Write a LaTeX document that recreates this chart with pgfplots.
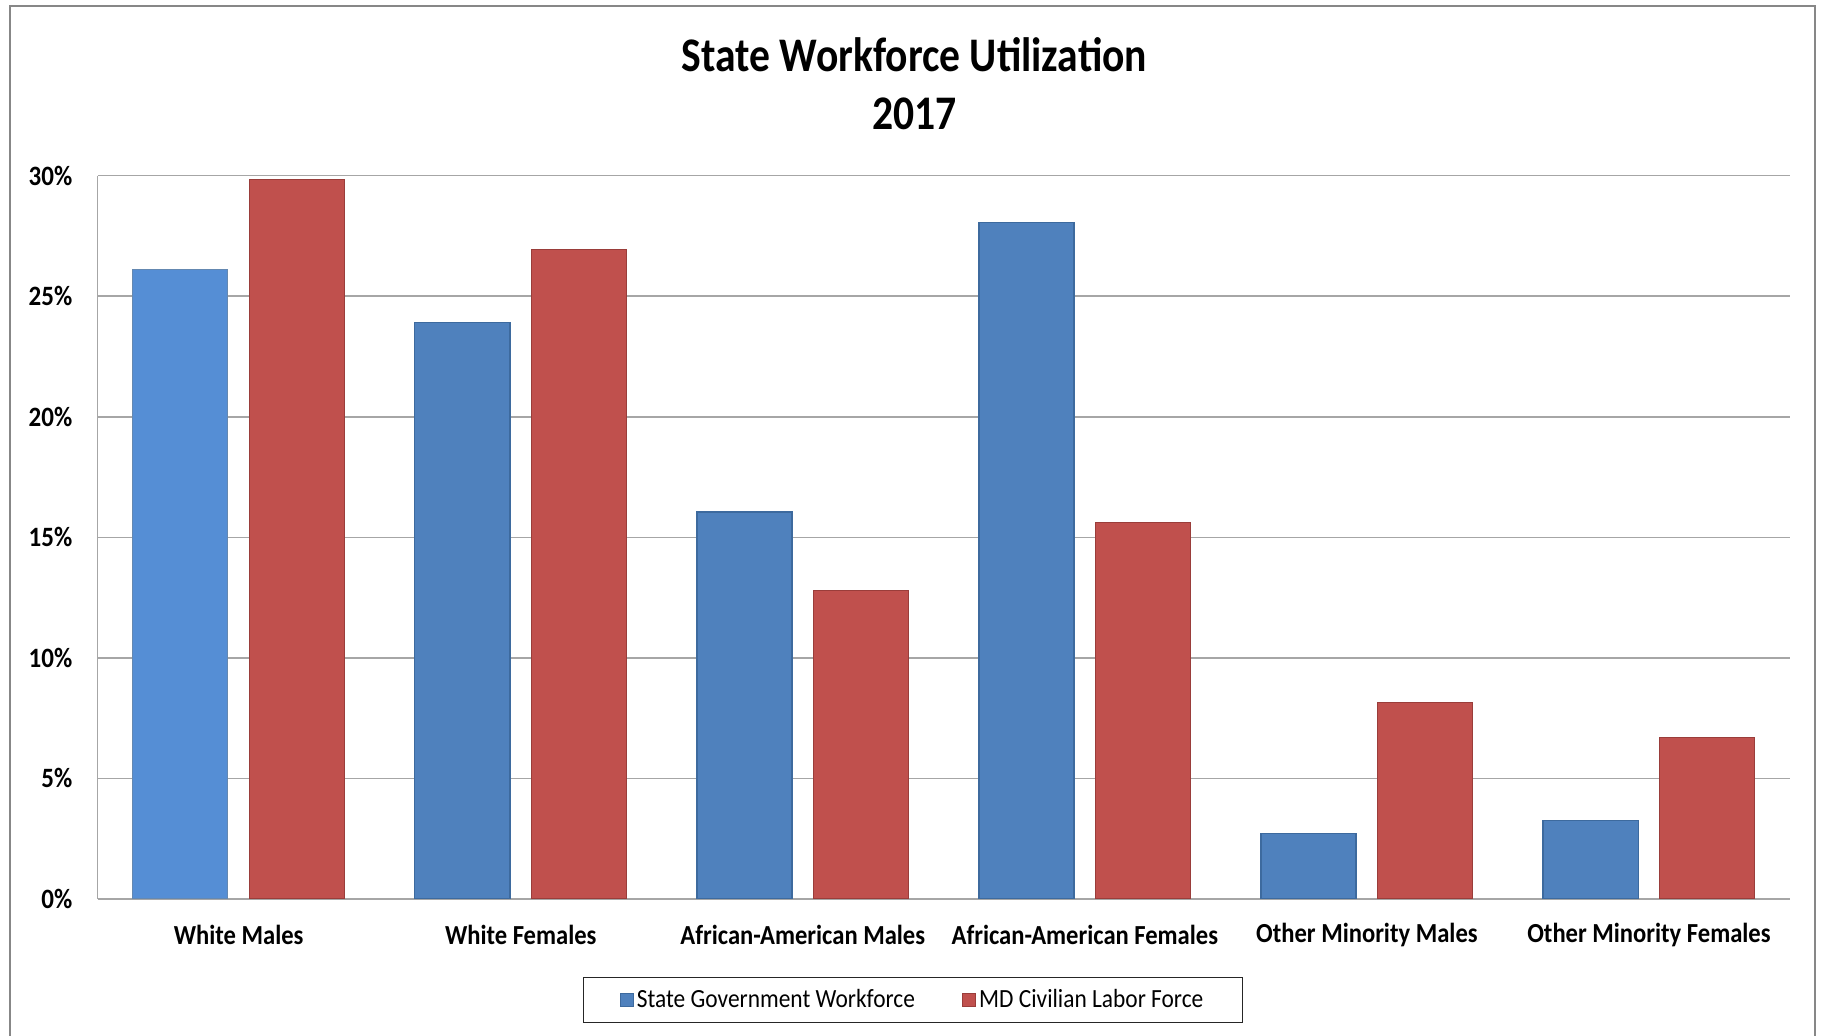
\documentclass[border=0pt]{standalone}
\usepackage{fontspec}
\setmainfont{Carlito}
\usepackage{graphicx}
\usepackage{pgfplots}
\pgfplotsset{compat=1.18}
\definecolor{bblue}{HTML}{4F81BD}
\definecolor{bbluedk}{HTML}{3D6A9E}
\definecolor{lblue}{HTML}{558ED5}
\definecolor{bred}{HTML}{C0504D}
\definecolor{breddk}{HTML}{9A3D3A}
\definecolor{gridc}{HTML}{A6A6A6}
\definecolor{framec}{HTML}{878787}
\newcommand{\vs}[1]{\scalebox{1}[1.12]{#1}}
\begin{document}
\begin{tikzpicture}
\useasboundingbox (-48.85pt,-68.5pt) rectangle (861.65pt,449.5pt);
\begin{axis}[
  scale only axis, width=846.15pt, height=361.65pt,
  xmin=-0.5, xmax=5.5, ymin=0, ymax=30,
  axis x line*=bottom, axis y line*=left,
  axis line style={draw=gridc, line width=0.8pt, -},
  ymajorgrids, grid style={draw=gridc, line width=0.8pt},
  ytick={0,5,...,30},
  yticklabels={\vs{0\%},\vs{5\%},\vs{10\%},\vs{15\%},\vs{20\%},\vs{25\%},\vs{30\%}},
  xtick={0,...,5},
  xticklabels={\vs{White Males}, \vs{White Females}, \vs{African-American Males}, \vs{African-American Females}, \vs{Other Minority Males}, \vs{Other Minority Females}},
  major tick length=0pt,
  tick style={draw=none},
  yticklabel style={anchor=east, inner sep=0pt, xshift=-12.5pt, font=\bfseries\fontsize{12.5}{14}\selectfont},
  xticklabel style={anchor=center, inner sep=0pt, yshift=-18pt, font=\bfseries\fontsize{12.3}{14}\selectfont},
  ybar, bar width=0.337,
  legend columns=2,
  legend style={at={(0.4818,-0.1396)}, anchor=center, draw=black!85, line width=0.6pt,
    font=\fontsize{11.7}{14}\selectfont, inner xsep=18pt, inner ysep=4.5pt,
    nodes={inner xsep=1.5pt, inner ysep=1.5pt},
    /tikz/every even column/.append style={column sep=22pt}},
  legend image code/.code={\path[#1] (0pt,-3.25pt) rectangle (6.5pt,3.25pt);},
]
\addplot[fill=bblue, draw=bbluedk, line width=0.6pt, bar shift=-0.207]
  coordinates {(0,26.1) (1,23.9) (2,16.05) (3,28.05) (4,2.7) (5,3.25)};
\addlegendentry{\vs{State Government Workforce}}
\addplot[fill=bred, draw=breddk, line width=0.6pt, bar shift=0.207]
  coordinates {(0,29.85) (1,26.95) (2,12.8) (3,15.6) (4,8.15) (5,6.7)};
\addlegendentry{\vs{MD Civilian Labor Force}}
\addplot[fill=lblue, draw=bbluedk!80, line width=0.6pt, bar shift=-0.207, forget plot]
  coordinates {(0,26.1)};
\end{axis}
\node[anchor=base, font=\bfseries\fontsize{20.8}{25}\selectfont] at (408.4pt,413.65pt) {\scalebox{1}[1.16]{State Workforce Utilization}};
\node[anchor=base, font=\bfseries\fontsize{20.8}{25}\selectfont] at (408.4pt,384.5pt) {\scalebox{1}[1.16]{2017}};
\draw[framec, line width=1pt] (-43.85pt,-90pt) rectangle (858.65pt,446.65pt);
\end{tikzpicture}
\end{document}
